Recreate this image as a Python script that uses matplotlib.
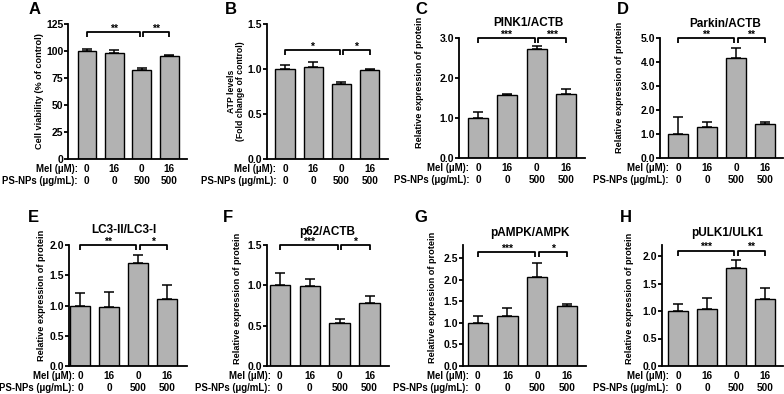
import matplotlib
matplotlib.use('Agg')
import matplotlib.pyplot as plt
import numpy as np

plt.rcParams['font.family'] = ['Liberation Sans', 'DejaVu Sans']
plt.rcParams['font.weight'] = 'bold'
plt.rcParams['axes.labelweight'] = 'bold'

# ---- data ----
mel_labels = ['0', '16', '0', '16']
psnp_labels = ['0', '0', '500', '500']

a_mean = [100, 98, 82, 95.5]
a_err = [2, 3, 2, 1]
b_mean = [1.0, 1.02, 0.83, 0.985]
b_err = [0.04, 0.06, 0.03, 0.01]
c_mean = [1.0, 1.58, 2.73, 1.6]
c_err = [0.15, 0.03, 0.06, 0.12]
d_mean = [1.0, 1.3, 4.15, 1.4]
d_err = [0.72, 0.22, 0.45, 0.08]
e_mean = [1.0, 0.98, 1.7, 1.1]
e_err = [0.21, 0.24, 0.14, 0.24]
f_mean = [1.0, 0.99, 0.53, 0.78]
f_err = [0.15, 0.09, 0.05, 0.09]
g_mean = [1.0, 1.16, 2.05, 1.38]
g_err = [0.16, 0.18, 0.33, 0.06]
h_mean = [1.0, 1.03, 1.79, 1.22]
h_err = [0.13, 0.20, 0.13, 0.20]

a_stars = ['**', '**']
b_stars = ['*', '*']
c_stars = ['***', '***']
d_stars = ['**', '**']
e_stars = ['**', '*']
f_stars = ['***', '*']
g_stars = ['***', '*']
h_stars = ['***', '**']

titles = [None, None, 'PINK1/ACTB', 'Parkin/ACTB', 'LC3-II/LC3-I', 'p62/ACTB', 'pAMPK/AMPK', 'pULK1/ULK1']
ylabels = ['Cell viability (% of control)', 'ATP levels\n(Fold change of control)'] + ['Relative expression of protein'] * 6
letters = ['A', 'B', 'C', 'D', 'E', 'F', 'G', 'H']

W, H = 784, 394
fig = plt.figure(figsize=(W / 100, H / 100), dpi=100)

BAR_COLOR = '#b2b2b2'

panels = [
    dict(mean=a_mean, err=a_err, stars=a_stars, box=(68, 24, 187, 159), xlim=(-0.69, 3.65), ylim=(0, 125),
         ticks=np.arange(0, 126, 25), fmt='{:.0f}', dx=29, yfrac=0.5, by=117.6, letter=(35, 9), tpos=None,
         yls=6.6, roff=-6.5),
    dict(mean=b_mean, err=b_err, stars=b_stars, box=(267, 24, 388, 159), xlim=(-0.64, 3.65), ylim=(0, 1.5),
         ticks=np.arange(0, 1.51, 0.5), fmt='{:.1f}', dx=31, yfrac=0.5, by=1.21, letter=(231, 9), tpos=None,
         yls=6.2, roff=-6.5),
    dict(mean=c_mean, err=c_err, stars=c_stars, box=(459, 38, 585, 158), xlim=(-0.65, 3.65), ylim=(0, 3.0),
         ticks=np.arange(0, 3.01, 1.0), fmt='{:.1f}', dx=39, yfrac=0.63, by=3.0, letter=(421, 10), tpos=(528, 23),
         yls=6.6, roff=-6.5),
    dict(mean=d_mean, err=d_err, stars=d_stars, box=(660, 38, 783, 158), xlim=(-0.62, 3.62), ylim=(0, 5.0),
         ticks=np.arange(0, 5.01, 1.0), fmt='{:.1f}', dx=40, yfrac=0.59, by=5.0, letter=(623, 10), tpos=(725, 24),
         yls=6.6, roff=-6.5),
    dict(mean=e_mean, err=e_err, stars=e_stars, box=(69, 245, 187, 366), xlim=(-0.38, 3.69), ylim=(0, 2.0),
         ticks=np.arange(0, 2.01, 0.5), fmt='{:.1f}', dx=27, yfrac=0.58, by=2.0, letter=(33, 218), tpos=(124, 230),
         yls=6.6, roff=-3.8),
    dict(mean=f_mean, err=f_err, stars=f_stars, box=(267, 245, 389, 366), xlim=(-0.43, 3.65), ylim=(0, 1.5),
         ticks=np.arange(0, 1.51, 0.5), fmt='{:.1f}', dx=30, yfrac=0.56, by=1.5, letter=(228, 218), tpos=(327, 232),
         yls=6.6, roff=-6.5),
    dict(mean=g_mean, err=g_err, stars=g_stars, box=(463, 245, 586, 366), xlim=(-0.5, 3.65), ylim=(0, 2.8),
         ticks=np.arange(0, 2.51, 0.5), fmt='{:.1f}', dx=30, yfrac=0.57, by=2.64, letter=(421, 218), tpos=(530, 233),
         yls=6.6, roff=-6.5),
    dict(mean=h_mean, err=h_err, stars=h_stars, box=(662, 245, 783, 366), xlim=(-0.55, 3.62), ylim=(0, 2.2),
         ticks=np.arange(0, 2.01, 0.5), fmt='{:.1f}', dx=32, yfrac=0.56, by=2.1, letter=(626, 218), tpos=(727, 233),
         yls=6.6, roff=-6.5),
]

for i, p in enumerate(panels):
    l, t, r, b = p['box']
    ax = fig.add_axes([l / W, 1 - b / H, (r - l) / W, (b - t) / H])
    x = np.arange(len(p['mean']))
    ax.bar(x, p['mean'], width=0.68, color=BAR_COLOR, edgecolor='black', linewidth=1.0, zorder=2)
    ax.errorbar(x, p['mean'], yerr=[np.zeros(len(x)), p['err']], fmt='none', ecolor='black',
                elinewidth=1.1, capsize=3.5, capthick=1.1, zorder=1)
    ax.set_xlim(*p['xlim'])
    ax.set_ylim(*p['ylim'])
    ax.set_yticks(p['ticks'])
    ax.set_yticklabels([p['fmt'].format(v) for v in p['ticks']], fontsize=7.5, fontweight='bold')
    ax.set_xticks([])
    for s in ['top', 'right']:
        ax.spines[s].set_visible(False)
    for s in ['left', 'bottom']:
        ax.spines[s].set_linewidth(1.3)
    ax.tick_params(axis='y', length=3, width=1.3, pad=0.5)
    ax.set_ylabel(ylabels[i], fontsize=p['yls'], fontweight='bold', va='center', ha='center',
                  linespacing=1.05)
    ax.yaxis.set_label_coords(-p['dx'] / (r - l), p['yfrac'])

    # row labels
    for j in range(len(x)):
        ax.annotate(mel_labels[j], xy=(x[j], 0), xycoords=('data', 'axes fraction'),
                    xytext=(0, -7.2), textcoords='offset points', ha='center', va='center',
                    fontsize=7.2, fontweight='bold', annotation_clip=False)
        ax.annotate(psnp_labels[j], xy=(x[j], 0), xycoords=('data', 'axes fraction'),
                    xytext=(0, -15.5), textcoords='offset points', ha='center', va='center',
                    fontsize=7.2, fontweight='bold', annotation_clip=False)
    ax.annotate('Mel (μM):', xy=(0, 0), xycoords=('data', 'axes fraction'),
                xytext=(p['roff'], -7.2), textcoords='offset points', ha='right', va='center',
                fontsize=6.9, fontweight='bold', annotation_clip=False)
    ax.annotate('PS-NPs (μg/mL):', xy=(0, 0), xycoords=('data', 'axes fraction'),
                xytext=(p['roff'], -15.5), textcoords='offset points', ha='right', va='center',
                fontsize=6.9, fontweight='bold', annotation_clip=False)

    # significance brackets
    yr = p['ylim'][1] - p['ylim'][0]
    drop = 5.0 / (b - t) * yr
    by = p['by']
    gap = 0.06
    segs = [(0, 2 - gap), (2 + gap, 3)]
    for (x0, x1), st in zip(segs, p['stars']):
        ax.plot([x0, x0, x1, x1], [by - drop, by, by, by - drop], color='black', lw=1.3,
                clip_on=False, solid_capstyle='butt', zorder=3)
        ax.annotate(st, xy=((x0 + x1) / 2, by), xycoords='data', xytext=(0, 2.3),
                    textcoords='offset points', ha='center', va='center', fontsize=7.5,
                    fontweight='bold', annotation_clip=False)

    if p['tpos'] is not None:
        fig.text(p['tpos'][0] / W, 1 - p['tpos'][1] / H, titles[i], ha='center', va='center',
                 fontsize=8.5, fontweight='bold')
    fig.text(p['letter'][0] / W, 1 - p['letter'][1] / H, letters[i], ha='center', va='center',
             fontsize=12, fontweight='bold')

fig.savefig('out.png', dpi=100, facecolor='white')
